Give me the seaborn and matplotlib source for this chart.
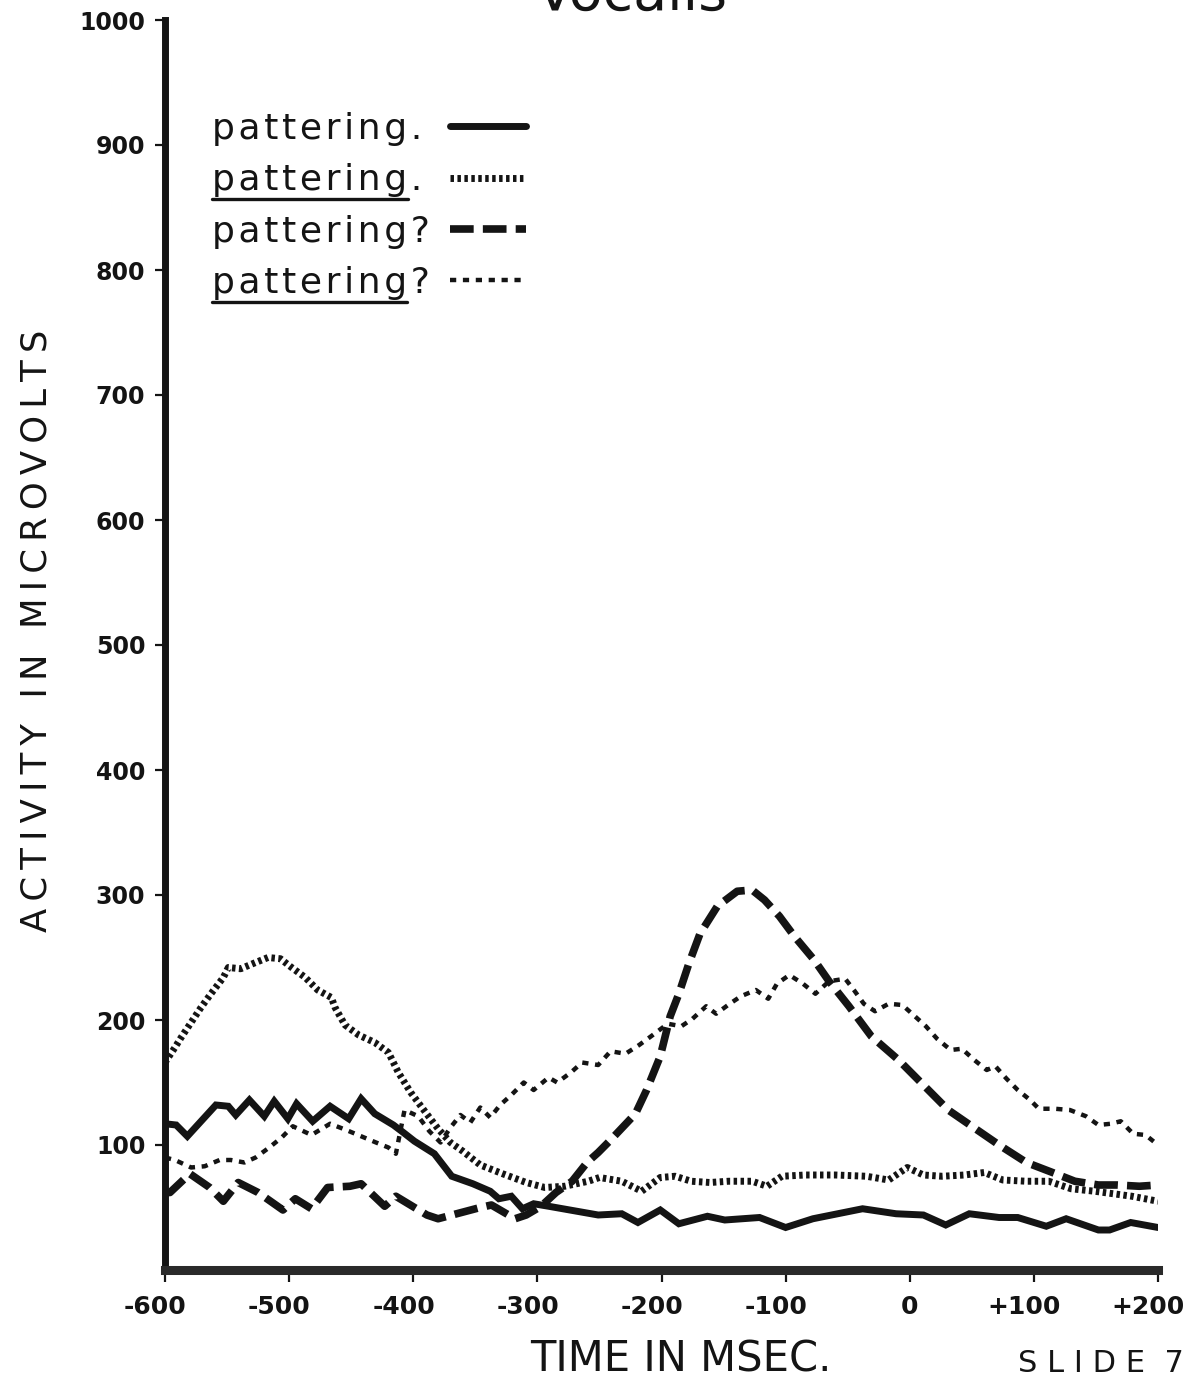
import matplotlib
matplotlib.use("Agg")
import matplotlib.pyplot as plt
import matplotlib.transforms as mtransforms
from matplotlib.lines import Line2D
import numpy as np
import pandas as pd
import seaborn as sns

sns.set_theme(style="ticks")
plt.rcParams["font.family"] = ["DejaVu Sans"]

# ---------------- data ----------------
plain_stmt_t = [-600, -591, -582, -559, -549, -543, -532, -520, -512, -501, -494, -481,
                -467, -452, -442, -431, -416, -408, -399, -383, -369, -352, -338, -331,
                -321, -312, -303, -291, -251, -232, -219, -201, -186, -163, -149, -121,
                -100, -78, -38, -11, 11, 29, 48, 72, 87, 110, 126, 152, 161, 178, 200]
plain_stmt_v = [117, 116, 107, 132, 131, 124, 136, 123, 135, 121, 133, 119,
                131, 121, 137, 125, 116, 110, 103, 93, 75, 69, 63, 57,
                59, 49, 53, 51, 44, 45, 38, 48, 37, 43, 40, 42,
                34, 41, 49, 45, 44, 36, 45, 42, 42, 35, 41, 32, 32, 38, 34]

stress_stmt_t = [-600, -592, -587, -579, -571, -563, -553, -549, -539, -527, -517, -507,
                 -498, -487, -477, -466, -463, -455, -444, -431, -420, -412, -402, -390,
                 -380, -370, -360, -346, -328, -309, -294, -278, -259, -250, -232, -216,
                 -201, -189, -176, -161, -146, -127, -115, -103, -84, -60, -35, -17, -2,
                 11, 26, 44, 60, 75, 94, 112, 130, 149, 164, 179, 200]
stress_stmt_v = [166, 178, 186, 198, 210, 221, 234, 242, 241, 246, 250, 249,
                 242, 234, 224, 218, 210, 196, 188, 182, 174, 158, 142, 126,
                 113, 102, 95, 84, 77, 70, 66, 67, 71, 74, 71, 63,
                 74, 75, 71, 70, 71, 71, 67, 75, 76, 76, 75, 72, 82,
                 76, 75, 76, 78, 72, 71, 71, 65, 63, 61, 59, 55]

plain_quest_t = [-600, -596, -580, -564, -553, -541, -525, -505, -495, -482, -469, -451,
                 -442, -423, -414, -389, -380, -365, -346, -337, -318, -309, -297, -285,
                 -272, -260, -251, -241, -221, -212, -201, -193, -186, -178, -169, -155,
                 -139, -127, -117, -105, -93, -77, -65, -49, -31, -9, 10, 31, 50, 72,
                 94, 115, 133, 152, 167, 185, 200]
plain_quest_v = [62, 62, 77, 66, 55, 70, 62, 48, 57, 49, 66, 67,
                 69, 51, 59, 44, 41, 45, 50, 52, 41, 44, 51, 62,
                 71, 86, 94, 104, 125, 144, 171, 203, 221, 245, 269, 291,
                 303, 304, 296, 283, 267, 248, 231, 211, 187, 168, 149, 128, 115, 100,
                 86, 78, 71, 68, 68, 67, 68]

stress_quest_t = [-600, -592, -579, -568, -556, -547, -536, -527, -516, -506, -497, -482,
                  -467, -454, -442, -430, -420, -414, -407, -396, -387, -378, -370, -362,
                  -354, -346, -338, -330, -321, -311, -303, -291, -284, -273, -264, -251,
                  -241, -229, -218, -207, -195, -184, -175, -164, -156, -145, -136, -124,
                  -114, -107, -97, -86, -76, -65, -52, -45, -37, -28, -17, -6, 3, 13, 22,
                  33, 42, 52, 62, 69, 78, 87, 97, 104, 117, 129, 142, 152, 162, 170, 180,
                  190, 200]
stress_quest_v = [90, 88, 82, 83, 88, 88, 86, 90, 98, 106, 115, 108,
                  117, 112, 107, 102, 98, 93, 128, 123, 111, 102, 114, 124,
                  118, 130, 122, 132, 140, 150, 144, 154, 150, 158, 166, 164,
                  175, 173, 180, 188, 197, 195, 201, 211, 205, 213, 219, 224,
                  217, 229, 236, 229, 221, 231, 233, 224, 213, 207, 213, 212, 204, 195, 185,
                  176, 177, 168, 160, 163, 153, 144, 136, 129, 129, 128, 123, 116, 117, 119, 109,
                  108, 100]

series_labels = ["pattering.", "pattering.", "pattering?", "pattering?"]
series_underlined = [False, True, False, True]

x_ticks = [-600, -500, -400, -300, -200, -100, 0, 100, 200]
x_tick_labels = ["-600", "-500", "-400", "-300", "-200", "-100", "0", "+100", "+200"]
y_ticks = [100, 200, 300, 400, 500, 600, 700, 800, 900, 1000]
y_tick_labels = ["100", "200", "300", "400", "500", "600", "700", "800", "900", "1000"]

# ---------------- figure ----------------
W, H = 1196, 1383
fig = plt.figure(figsize=(W / 100, H / 100), dpi=100)
fig.patch.set_facecolor("white")
ax = fig.add_axes([165 / W, 113 / H, 993 / W, 1250 / H])
ax.set_facecolor("white")

INK = "#141414"
styles = [
    dict(linewidth=5.0, linestyle="-"),
    dict(linewidth=5.0, linestyle=(0, (0.5, 0.5))),
    dict(linewidth=5.5, linestyle=(0, (3.1, 1.2))),
    dict(linewidth=3.2, linestyle=(0, (1.4, 1.5))),
]
all_series = [(plain_stmt_t, plain_stmt_v), (stress_stmt_t, stress_stmt_v),
              (plain_quest_t, plain_quest_v), (stress_quest_t, stress_quest_v)]

for (t, v), st in zip(all_series, styles):
    df = pd.DataFrame({"time": t, "activity": v})
    sns.lineplot(data=df, x="time", y="activity", ax=ax, color=INK,
                 errorbar=None, solid_joinstyle="miter", **st)

ax.set_xlim(-600, 200)
ax.set_ylim(0, 1000)

for s in ["top", "right"]:
    ax.spines[s].set_visible(False)
ax.spines["left"].set_linewidth(5.0)
ax.spines["left"].set_color(INK)
ax.spines["bottom"].set_linewidth(6.5)
ax.spines["bottom"].set_color("#2a2a2a")

ax.set_xticks(x_ticks, labels=x_tick_labels, fontsize=18, fontweight="bold")
ax.set_yticks(y_ticks, labels=y_tick_labels, fontsize=17, fontweight="bold")
ax.tick_params(axis="x", direction="out", length=8.6, width=1.6, pad=9.5, colors=INK)
ax.tick_params(axis="y", direction="out", length=7.2, width=1.6, pad=7, colors=INK)

# digits centred on tick, sign hanging to the left
for lbl in ax.get_xticklabels():
    txt = lbl.get_text()
    if txt.startswith("-") or txt.startswith("+"):
        off = mtransforms.ScaledTranslation(-7 / 72, 0, fig.dpi_scale_trans)
        lbl.set_transform(lbl.get_transform() + off)

ax.set_xlabel("TIME IN MSEC.", fontsize=30, color=INK, va="center")
ax.xaxis.set_label_coords((681 - 165) / 993, (1270 - 1359) / 1250)

thin = "\u2009"
ylab_words = ["ACTIVITY", "IN", "MICROVOLTS"]
ylab = (thin + " " + thin).join(thin.join(list(w)) for w in ylab_words)
ax.set_ylabel(ylab, fontsize=25.5, color=INK, va="center", ha="center")
ax.yaxis.set_label_coords((37 - 165) / 993, (1270 - 631) / 1250)

# ---------------- legend ----------------
hair = "\u200a"
disp_labels = [hair.join(list(s)) + (thin if s.endswith(".") else "") for s in series_labels]
handles = [Line2D([], [], color=INK, **st) for st in styles]
leg = ax.legend(handles, disp_labels, loc="upper left",
                bbox_to_anchor=((212 - 165) / 993, (1270 - 112) / 1250),
                frameon=False, markerfirst=False, handlelength=2.1,
                handletextpad=0.55, labelspacing=0.48, borderpad=0,
                borderaxespad=0, prop={"size": 26})
for txt in leg.get_texts():
    txt.set_color(INK)

fig.canvas.draw()
renderer = fig.canvas.get_renderer()
for txt, und, raw in zip(leg.get_texts(), series_underlined, series_labels):
    if not und:
        continue
    bb = txt.get_window_extent(renderer)
    probe = fig.text(0, 0, hair.join(list(raw.rstrip(".?"))), fontsize=26)
    w = probe.get_window_extent(renderer).width
    probe.remove()
    y = bb.y0 - 2
    fig.add_artist(Line2D([bb.x0, bb.x0 + w], [y, y], color=INK, linewidth=2.4,
                          transform=mtransforms.IdentityTransform()))

# ---------------- page texts ----------------
fig.text((530 + 733) / 2 / W, 1 - 10 / H, "Vocalis", ha="center", va="baseline",
         fontsize=40, color=INK)
fig.text(1101 / W, 1 - 1364 / H, "S L I D E  7", ha="center", va="center",
         fontsize=22, color=INK)

fig.savefig("out.png", dpi=100, facecolor="white")
